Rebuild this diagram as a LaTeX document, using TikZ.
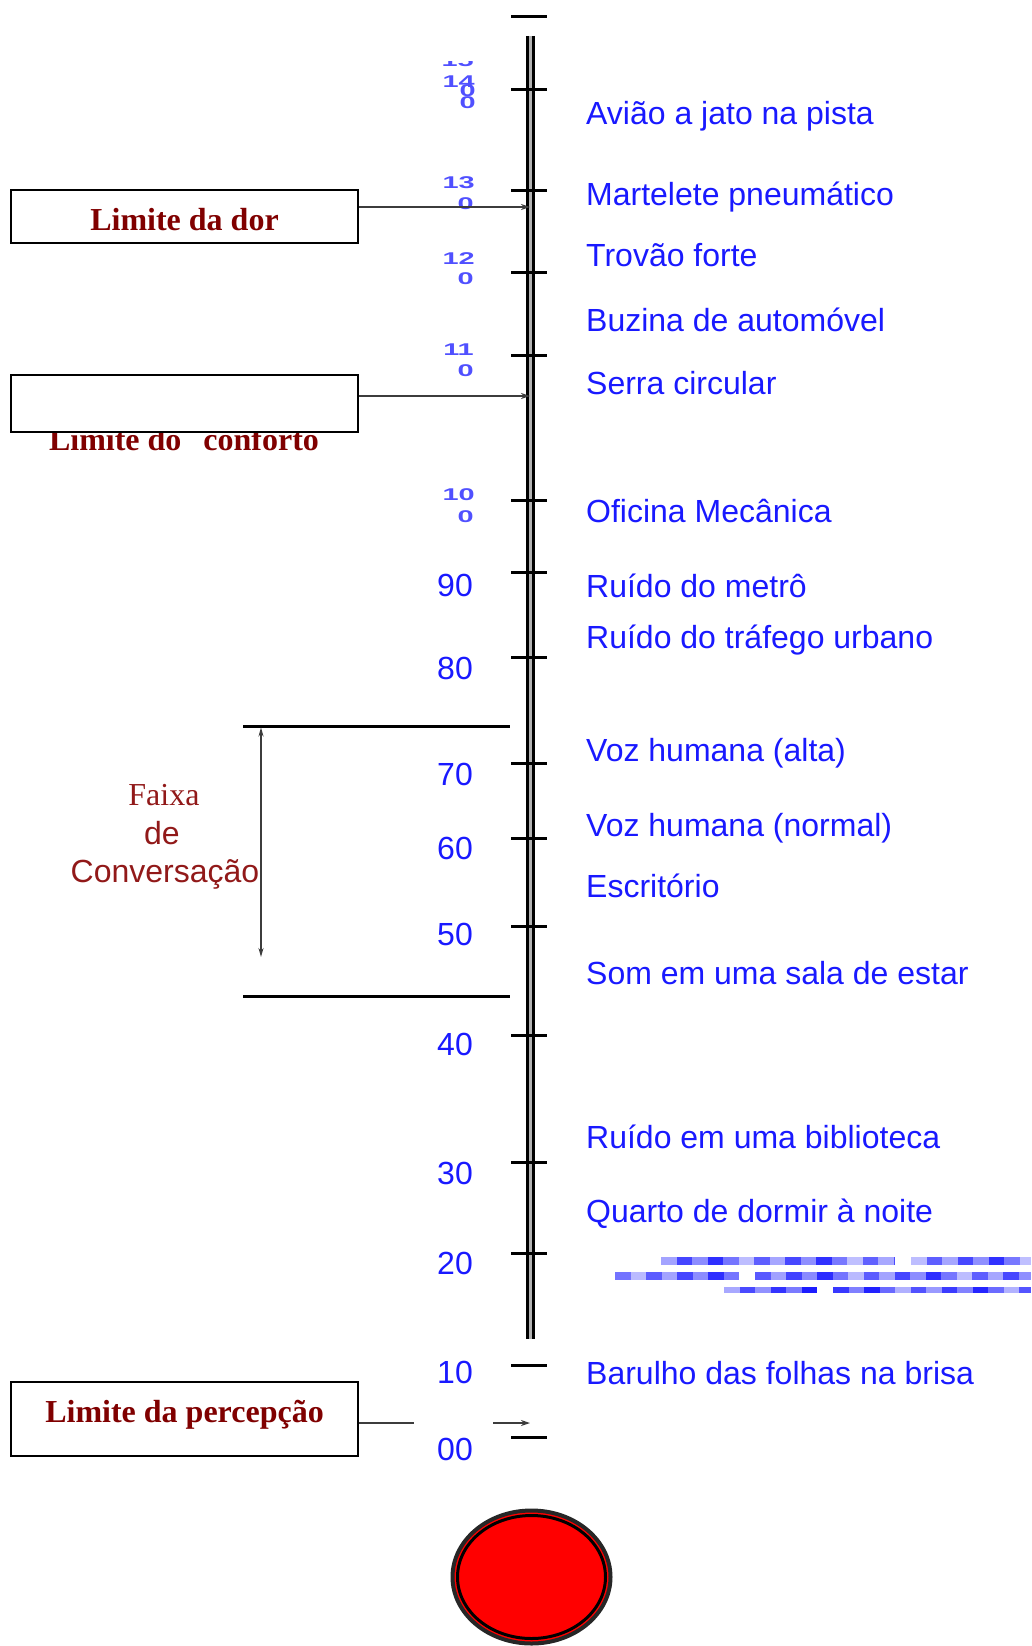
\documentclass[tikz,border=0pt]{standalone}
\usepackage{fontspec}
\setmainfont{Liberation Sans}
\newfontfamily\boxserif{Liberation Serif}
\usetikzlibrary{arrows.meta}
\definecolor{lblblue}{RGB}{25,25,255}
\definecolor{smallblue}{RGB}{80,80,255}
\definecolor{boxred}{RGB}{128,0,0}
\definecolor{faixared}{RGB}{145,25,25}
\definecolor{linegrey}{RGB}{60,60,60}
\begin{document}
\begin{tikzpicture}[x=1pt,y=-1pt,
  lbl/.style={anchor=base west,inner sep=0pt,text=lblblue,font=\fontsize{32}{38}\selectfont},
  num/.style={anchor=base east,inner sep=0pt,text=lblblue,font=\fontsize{32}{38}\selectfont},
  snum/.style={anchor=east,inner sep=0pt,text=smallblue,font=\bfseries\fontsize{17}{20}\selectfont},
  tickline/.style={line width=3pt,black},
  limbox/.style={draw=black,line width=2pt,fill=white,inner sep=0pt,minimum width=347pt},
  limtext/.style={anchor=base,inner sep=0pt,text=boxred,font=\boxserif\bfseries\fontsize{32}{38}\selectfont},
  conn/.style={linegrey,line width=2.2pt,-{Stealth[length=9pt,width=6pt]}},
  faixatext/.style={anchor=base,inner sep=0pt,text=faixared,font=\fontsize{32}{38}\selectfont}]
\useasboundingbox (0,0) rectangle (1031,1646);

% vertical bar
\fill[gray!60] (526,36) rectangle (535,1339);
\draw[line width=2.6pt] (527.3,36) -- (527.3,1339);
\draw[line width=2.6pt] (533.7,36) -- (533.7,1339);

% ticks
\draw[tickline] (511,17) -- (547,17);
\foreach \y in {89,190,272,355,500,572,657,763,838,926,1035,1162,1253,1365,1437}
  \draw[tickline] (511,\y) -- (547,\y);

% coordinates on bar for arrows
\coordinate (b1) at (530,207);
\coordinate (b2) at (530,396);
\coordinate (b3) at (530,1423);
\coordinate (b3s) at (493,1423);

% small tick labels
\begin{scope}
\clip (400,62) rectangle (500,75);
\node[snum] (n150a) at (474,61) {\scalebox{1.7}[1]{15}};
\end{scope}
\node[snum] (n140a) at (475,82) {\scalebox{1.7}[1]{14}};
\node[snum] (n150b) at (476,91) {\scalebox{1.7}[1]{0}};
\node[snum] (n140b) at (476,102.5) {\scalebox{1.7}[1]{0}};
\node[snum] (n130a) at (475,183) {\scalebox{1.7}[1]{13}};
\node[snum] (n130b) at (474,203.5) {\scalebox{1.7}[1]{0}};
\node[snum] (n120a) at (475,258.5) {\scalebox{1.7}[1]{12}};
\node[snum] (n120b) at (474,279) {\scalebox{1.7}[1]{0}};
\node[snum] (n110a) at (474,350) {\scalebox{1.7}[1]{11}};
\node[snum] (n110b) at (474,371) {\scalebox{1.7}[1]{0}};
\node[snum] (n100a) at (475,494.5) {\scalebox{1.7}[1]{10}};
\node[snum] (n100b) at (474,516.5) {\scalebox{1.7}[1]{0}};

% numeric labels
\node[num] (n90) at (473,596.5) {90};
\node[num] (n80) at (473,679.5) {80};
\node[num] (n70) at (473,785.5) {70};
\node[num] (n60) at (473,859.5) {60};
\node[num] (n50) at (473,945.5) {50};
\node[num] (n40) at (473,1055.5) {40};
\node[num] (n30) at (473,1184.5) {30};
\node[num] (n20) at (473,1274.5) {20};
\node[num] (n10) at (473,1383.5) {10};
\node[num] (n00) at (473,1460.5) {00};

% right labels
\node[lbl] (t1) at (586,124) {Avião a jato na pista};
\node[lbl] (t2) at (586,205) {Martelete pneumático};
\node[lbl] (t3) at (586,266) {Trovão forte};
\node[lbl] (t4) at (586,331) {Buzina de automóvel};
\node[lbl] (t5) at (586,394) {Serra circular};
\node[lbl] (t6) at (586,522) {Oficina Mecânica};
\node[lbl] (t7) at (586,597) {Ruído do metrô};
\node[lbl] (t8) at (586,648) {Ruído do tráfego urbano};
\node[lbl] (t9) at (586,761) {Voz humana (alta)};
\node[lbl] (t10) at (586,836) {Voz humana (normal)};
\node[lbl] (t11) at (586,897) {Escritório};
\node[lbl] (t12) at (586,984) {Som em uma sala de estar};
\node[lbl] (t13) at (586,1148) {Ruído em uma biblioteca};
\node[lbl] (t14) at (586,1222) {Quarto de dormir à noite};
\node[lbl] (t15) at (586,1384) {Barulho das folhas na brisa};

% garbled blue strip
\foreach \xa/\xb/\ya/\yb in {661/895/1257/1265, 911/1031/1257/1265, 615/739/1272/1280, 755/1031/1272/1280, 724/817/1287/1293, 833/1031/1287/1293}{
  \pgfmathtruncatemacro\nb{(\xb-\xa)/15.5}
  \foreach \i in {0,...,\nb}{
    \pgfmathtruncatemacro\c{mod(\i*37+\xa,65)+25}
    \pgfmathsetmacro\xx{\xa+\i*15.5}
    \pgfmathsetmacro\xe{min(\xx+15.5,\xb)}
    \ifdim\xx pt<\xb pt
      \fill[blue!\c] (\xx,\ya) rectangle (\xe,\yb);
    \fi
  }
}

% Limite da dor
\node[limbox,minimum height=52.5pt] (dor) at (184.5,216.5) {};
\node[limtext] (dortxt) at (184.5,230) {Limite da dor};
\draw[conn] (dor.east |- b1) -- (b1);

% Limite do conforto (text partly hidden by box)
\node[limtext] (conftxt) at (184,450) {Limite do\hspace{22pt}conforto};
\node[limbox,minimum height=56.5pt] (conf) at (184.5,403.5) {};
\draw[conn] (conf.east |- b2) -- (b2);

% Limite da percepcao
\node[limbox,minimum height=74pt] (perc) at (184.5,1419) {};
\node[limtext] (perctxt) at (184.5,1422) {Limite da percepção};
\coordinate (p1) at (414,1423);
\draw[linegrey,line width=2.2pt] (perc.east |- p1) -- (p1);
\draw[conn] (b3s) -- (b3);

% Faixa de conversacao
\coordinate (fl1) at (243,726);
\coordinate (fr1) at (510,726);
\coordinate (fl2) at (243,996);
\coordinate (fr2) at (510,996);
\draw[line width=3pt] (fl1) -- (fr1);
\draw[line width=3pt] (fl2) -- (fr2);
\coordinate (fa1) at (261,727.5);
\coordinate (fa2) at (261,957);
\draw[linegrey,line width=1.6pt,{Stealth[length=9pt,width=5pt]}-{Stealth[length=9pt,width=5pt]}] (fa1) -- (fa2);
\node[faixatext,font=\boxserif\fontsize{32}{38}\selectfont] (faixa) at (164,805) {Faixa};
\node[faixatext] (de) at (162,844) {de};
\node[faixatext] (conv) at (165,882) {Conversação};

% red bulb
\filldraw[fill=red,draw=black!85,line width=4pt] (531.5,1577) ellipse [x radius=79,y radius=66.5];
\draw[black,line width=3pt] (531.5,1577) ellipse [x radius=74,y radius=61.5];
\end{tikzpicture}
\end{document}
